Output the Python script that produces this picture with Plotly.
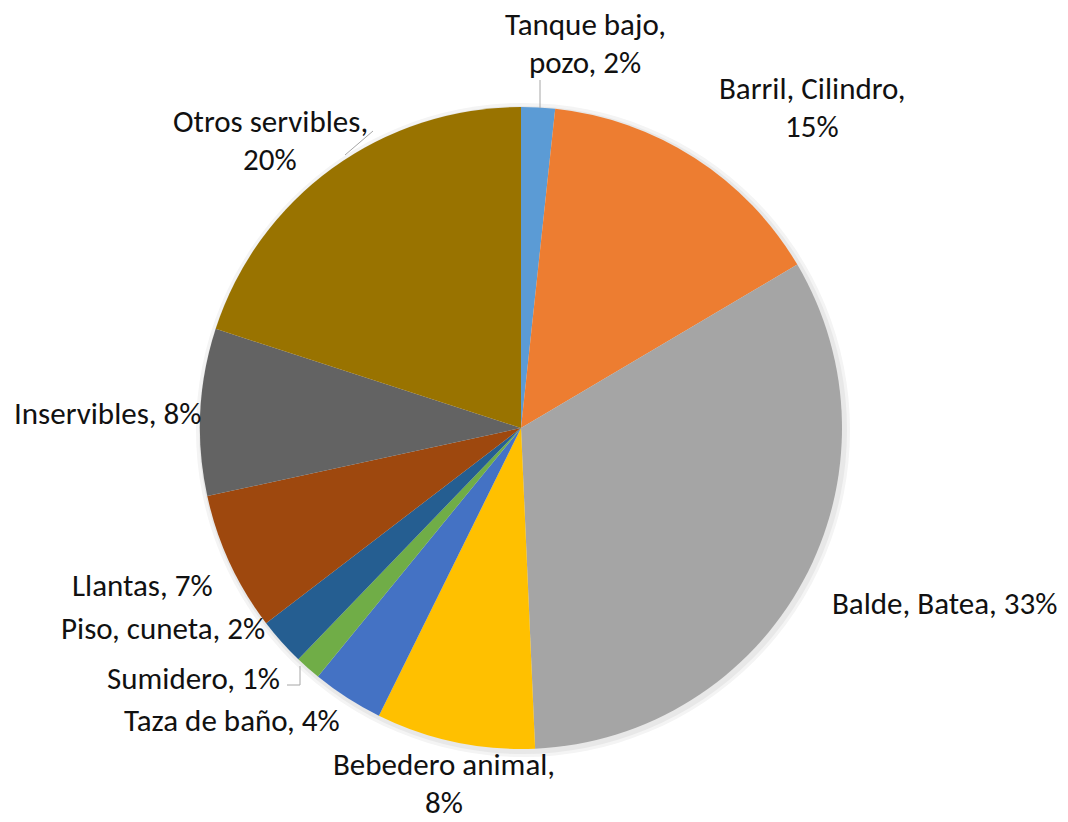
import plotly.graph_objects as go

# datos del grafico (lectura aproximada de la imagen)
categorias = ["Tanque bajo, pozo", "Barril, Cilindro", "Balde, Batea", "Bebedero animal",
              "Taza de baño", "Sumidero", "Piso, cuneta", "Llantas", "Inservibles",
              "Otros servibles"]
porcentajes = [1.7, 14.8, 32.8, 8.0, 3.6, 1.3, 2.4, 7.0, 8.4, 20.0]
colores = ["#5B9BD5", "#ED7D31", "#A5A5A5", "#FFC000", "#4472C4",
           "#70AD47", "#255E91", "#9E480E", "#636363", "#997300"]
# texto de cada etiqueta tal como sale en la figura ("|" = salto de linea)
etiquetas_txt = ["Tanque bajo,|pozo,", "Barril, Cilindro,|", "Balde, Batea,",
                 "Bebedero animal,|", "Taza de baño,", "Sumidero,", "Piso, cuneta,",
                 "Llantas,", "Inservibles,", "Otros servibles,|"]

W, H = 1068, 822
CX, CY, R = 521, 428, 321
INTERLINEA = 38

# posicion (pixeles) del centro de cada etiqueta
pos_etiquetas = [(585, 43), (812, 107), (944, 603), (444, 783), (232, 720),
                 (193, 678), (163, 628), (142, 585), (107, 413), (270, 140)]


def px(x, y):
    return x / W, 1 - y / H


fig = go.Figure()

# sombra suave alrededor del pastel
for extra, col in [(6, "#f4f4f4"), (3, "#e8e8e8")]:
    fig.add_trace(go.Pie(values=[1], marker=dict(colors=[col]), textinfo="none",
                         hoverinfo="skip", showlegend=False, sort=False,
                         domain=dict(x=[(CX - R - extra + 2) / W, (CX + R + extra + 2) / W],
                                     y=[1 - (CY + R + extra + 2) / H, 1 - (CY - R - extra + 2) / H])))

fig.add_trace(go.Pie(
    labels=categorias,
    values=porcentajes,
    marker=dict(colors=colores, line=dict(width=0)),
    sort=False,
    direction="clockwise",
    rotation=0,
    textinfo="none",
    showlegend=False,
    domain=dict(x=[(CX - R) / W, (CX + R) / W], y=[1 - (CY + R) / H, 1 - (CY - R) / H]),
))

total = sum(porcentajes)
fuente = dict(family="Carlito, Lato, sans-serif", size=31, color="#111111")
for txt, v, (x, y) in zip(etiquetas_txt, porcentajes, pos_etiquetas):
    pct = f"{round(100 * v / total)}%"
    if "|" in txt:
        a, b = txt.split("|")
        lineas = [a, (b + " " + pct).strip()]
    else:
        lineas = [txt + " " + pct]
    y0 = y - INTERLINEA * (len(lineas) - 1) / 2
    for k, linea in enumerate(lineas):
        ax, ay = px(x, y0 + k * INTERLINEA)
        fig.add_annotation(text=linea, x=ax, y=ay, xref="paper", yref="paper",
                           xanchor="center", yanchor="middle", showarrow=False,
                           borderpad=0, font=fuente)

# lineas guia
guias = [((540, 80), (540, 108)), ((287, 685), (300, 685)), ((300, 685), (300, 666)),
         ((373, 131), (345, 155))]
for (x0, y0), (x1, y1) in guias:
    a0, b0 = px(x0, y0)
    a1, b1 = px(x1, y1)
    fig.add_shape(type="line", xref="paper", yref="paper", x0=a0, y0=b0, x1=a1, y1=b1,
                  line=dict(color="#A6A6A6", width=1))

fig.update_layout(width=W, height=H, margin=dict(l=0, r=0, t=0, b=0),
                  paper_bgcolor="white", plot_bgcolor="white")
# quitar el margen por defecto del body para que la figura ocupe toda la ventana
fig.write_html("out.html", config={"displayModeBar": False},
               post_script="document.body.style.margin='0';document.body.style.overflow='hidden';")
